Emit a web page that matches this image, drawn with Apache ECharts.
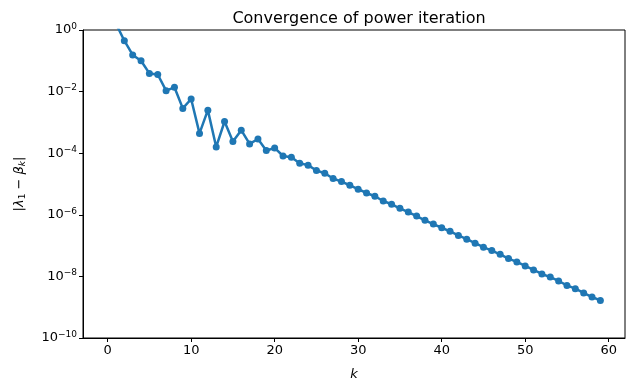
<!DOCTYPE html>
<html>
<head>
<meta charset="utf-8">
<script src="https://cdn.jsdelivr.net/npm/echarts@6/dist/echarts.min.js"></script>
<style>
html,body{margin:0;padding:0;background:#fff;}
#chart{width:635px;height:392px;}
</style>
</head>
<body>
<div id="chart"></div>
<script>
var iterations = [0,1,2,3,4,5,6,7,8,9,10,11,12,13,14,15,16,17,18,19,20,21,22,23,24,25,26,27,28,29,30,31,32,33,34,35,36,37,38,39,40,41,42,43,44,45,46,47,48,49,50,51,52,53,54,55,56,57,58,59];
var errors = [6.3, 1.6, 0.45, 0.155, 0.1, 0.039, 0.036, 0.0107, 0.0138, 0.00285, 0.00575,
  4.4e-4, 2.5e-3, 1.6e-4, 1.07e-3, 2.4e-4, 5.6e-4, 2.0e-4, 2.9e-4, 1.23e-4, 1.48e-4,
  8.1e-5, 7.4e-5, 4.7e-5, 4.1e-5, 2.75e-5, 2.24e-5, 1.51e-5, 1.2e-5, 9.1e-6, 6.8e-6,
  5.1e-6, 4.0e-6, 2.8e-6, 2.2e-6, 1.62e-6, 1.23e-6, 9.1e-7, 6.6e-7, 5.0e-7, 3.8e-7,
  2.9e-7, 2.14e-7, 1.62e-7, 1.2e-7, 8.9e-8, 6.9e-8, 5.2e-8, 3.8e-8, 2.95e-8, 2.19e-8,
  1.62e-8, 1.2e-8, 9.5e-9, 7.1e-9, 5.1e-9, 4.0e-9, 2.9e-9, 2.14e-9, 1.66e-9];
var xTicks = [0,10,20,30,40,50,60];
var yTicks = [1e-10,1e-8,1e-6,1e-4,1e-2,1];

var font = 'DejaVu Sans';
var chart = echarts.init(document.getElementById('chart'), null, {renderer:'canvas'});
var pts = iterations.map(function(k,i){return [k, errors[i]];});

function yFmt(v){
  var e = Math.round(Math.log10(v));
  return '10{s|' + (e < 0 ? '\u2212' + (-e) : String(e)) + '}';
}

chart.setOption({
  animation:false,
  backgroundColor:'#fff',
  title:{
    text:'Convergence of power iteration',
    left:354, top:6, textAlign:'center',
    textStyle:{fontFamily:font, fontSize:16, fontWeight:'normal', color:'#000'}
  },
  grid:{left:83, right:10, top:30, bottom:54, show:true, borderColor:'#000', borderWidth:1, backgroundColor:'transparent'},
  xAxis:{
    type:'value', min:-2.95, max:61.95,
    name:'k', nameLocation:'middle', nameGap:30,
    nameTextStyle:{fontFamily:font, fontSize:13, fontStyle:'italic', color:'#000'},
    axisLine:{show:true, onZero:false, lineStyle:{color:'#000', width:1}},
    axisTick:{show:true, length:4, lineStyle:{color:'#000'}, customValues:xTicks},
    axisLabel:{show:true, margin:6, fontFamily:font, fontSize:13, color:'#000', customValues:xTicks},
    splitLine:{show:false}
  },
  yAxis:{
    type:'log', logBase:10, min:1e-10, max:1,
    name:'|{i|\u03bb}{sub|1} \u2212 {i|\u03b2}{subi|k}|', nameLocation:'middle', nameGap:56, nameRotate:90,
    nameTextStyle:{fontFamily:font, fontSize:13, color:'#000',
      rich:{
        i:{fontFamily:font, fontSize:13, fontStyle:'italic', color:'#000'},
        sub:{fontFamily:font, fontSize:9, color:'#000', padding:[5,0,0,0]},
        subi:{fontFamily:font, fontSize:9, fontStyle:'italic', color:'#000', padding:[5,0,0,0]}
      }},
    axisLine:{show:true, onZero:false, lineStyle:{color:'#000', width:1}},
    axisTick:{show:true, length:4, lineStyle:{color:'#000'}, customValues:yTicks},
    axisLabel:{show:true, margin:6, fontFamily:font, fontSize:13, color:'#000', customValues:yTicks,
      formatter:yFmt,
      rich:{s:{fontFamily:font, fontSize:9, color:'#000', padding:[0,0,7,0]}}},
    minorTick:{show:false},
    splitLine:{show:false}
  },
  series:[{
    type:'line', data:pts, clip:true,
    symbol:'circle', symbolSize:7, showSymbol:true,
    lineStyle:{color:'#1f77b4', width:2.5},
    itemStyle:{color:'#1f77b4'}
  }]
});
</script>
</body>
</html>
